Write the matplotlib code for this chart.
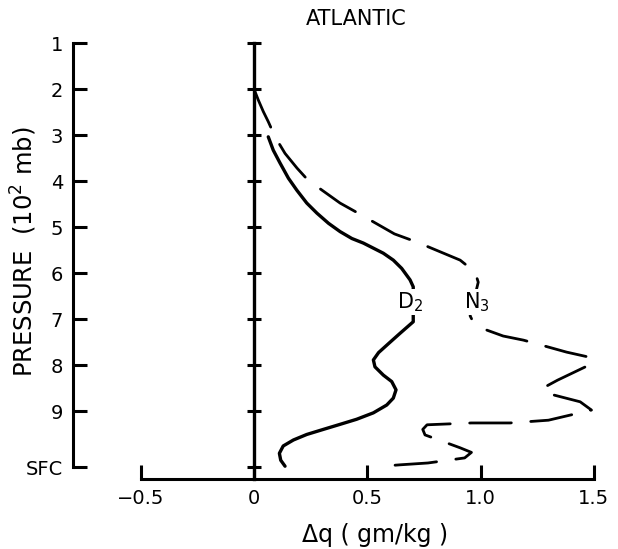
import matplotlib
matplotlib.use("Agg")

import matplotlib.pyplot as plt

# pressure levels (10^2 mb), SFC is about 10.2
levels = [1, 2, 3, 4, 5, 6, 7, 8, 9, 10.22]
level_labels = ["1", "2", "3", "4", "5", "6", "7", "8", "9", "SFC"]

dq_ticks = [-0.5, 0, 0.5, 1.0, 1.5]
dq_labels = ["\u22120.5", "0", "0.5", "1.0", "1.5"]

# D2 profile (solid)
d2_dq = [0.063, 0.085, 0.115, 0.152, 0.189, 0.233, 0.278, 0.329, 0.380,
         0.432, 0.483, 0.527, 0.571, 0.615, 0.652, 0.689, 0.703,
         0.703, 0.645, 0.595, 0.550, 0.527, 0.534, 0.571, 0.608, 0.627,
         0.615, 0.586, 0.527, 0.453, 0.380, 0.306, 0.233, 0.174, 0.129,
         0.112, 0.118, 0.137]
d2_p = [3.04, 3.33, 3.61, 3.94, 4.20, 4.48, 4.70, 4.92, 5.10,
        5.25, 5.35, 5.46, 5.57, 5.72, 5.90, 6.15, 6.30,
        7.06, 7.31, 7.53, 7.73, 7.89, 8.04, 8.22, 8.36, 8.54,
        8.72, 8.87, 9.04, 9.18, 9.29, 9.40, 9.51, 9.63, 9.76,
        9.92, 10.07, 10.20]

# N3 profile (dashed)
n3_dq = [0.0, 0.019, 0.041, 0.063, 0.093, 0.137, 0.19, 0.238, 0.38, 0.46,
         0.62, 0.72, 0.91, 0.976, 0.99, 0.954, 0.967, 1.027, 1.10, 1.19,
         1.38, 1.48, 1.497, 1.34, 1.276, 1.29, 1.44, 1.49, 1.30, 1.13,
         0.96, 0.764, 0.745, 0.755, 0.91, 0.96, 0.93, 0.768, 0.645, 0.565]
n3_p = [2.0, 2.24, 2.49, 2.71, 3.04, 3.40, 3.72, 3.98, 4.48, 4.70,
        5.15, 5.33, 5.72, 5.98, 6.20, 6.93, 7.06, 7.24, 7.37, 7.46,
        7.72, 7.83, 7.96, 8.33, 8.50, 8.61, 8.80, 8.98, 9.20, 9.26,
        9.26, 9.30, 9.40, 9.52, 9.80, 9.90, 10.02, 10.13, 10.17, 10.2]

fig = plt.figure(figsize=(6.18, 5.49), dpi=100)
ax = fig.add_axes([0, 0, 1, 1])
ax.set_xlim(-1.1214, 1.607)
ax.set_ylim(12.0, 0.0652)
ax.patch.set_alpha(0)

ax.spines["top"].set_visible(False)
ax.spines["right"].set_visible(False)
ax.spines["left"].set_position(("data", -0.80))
ax.spines["left"].set_bounds(1, 10.22)
ax.spines["bottom"].set_position(("data", 10.48))
ax.spines["bottom"].set_bounds(-0.5, 1.5)
for s in ("left", "bottom"):
    ax.spines[s].set_linewidth(2.2)

ax.set_yticks(levels)
ax.set_yticklabels(level_labels)
ax.set_xticks(dq_ticks)
ax.set_xticklabels(dq_labels)
ax.tick_params(direction="in", length=10, width=2.2, labelsize=14, pad=7)

# zero line with its own ticks
ax.plot([0, 0], [1, 10.48], color="black", lw=2.4)
ax.plot([0] * len(levels), levels, ls="none", marker="_", ms=10, mew=2.2,
        color="black")

ax.plot(d2_dq, d2_p, color="black", lw=2.4, solid_capstyle="round",
        solid_joinstyle="round")
ax.plot(n3_dq, n3_p, color="black", lw=2.0, dashes=(15, 7),
        dash_capstyle="round", dash_joinstyle="round")

box = dict(facecolor="white", edgecolor="none", pad=1)
ax.text(0.69, 6.63, "D$_2$", fontsize=15, ha="center", va="center", bbox=box)
ax.text(0.985, 6.63, "N$_3$", fontsize=15, ha="center", va="center", bbox=box)

fig.text(356 / 618, 1 - 19 / 549, "ATLANTIC", fontsize=15, ha="center",
         va="center")
fig.text(24 / 618, 1 - 252 / 549, "PRESSURE  (10$^2$ mb)", fontsize=17.5,
         rotation=90, ha="center", va="center")
fig.text(375 / 618, 1 - 535 / 549, "\u0394q ( gm/kg )", fontsize=17,
         ha="center", va="center")

fig.savefig("out.png", dpi=100)
plt.close()
